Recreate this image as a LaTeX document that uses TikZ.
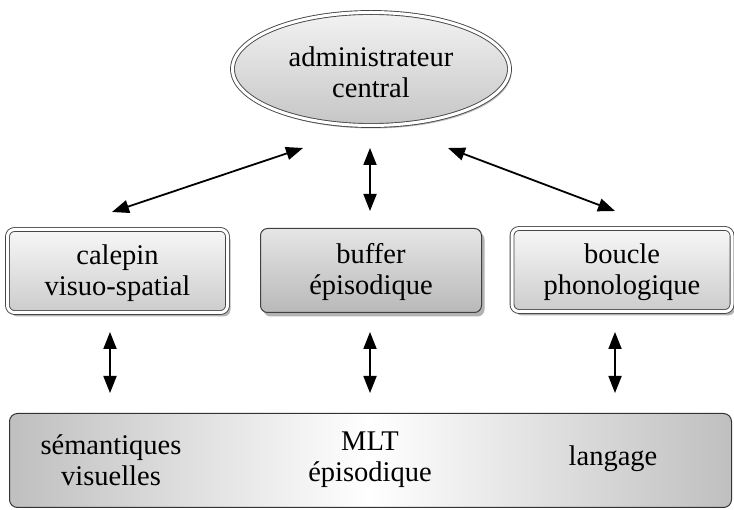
\documentclass[tikz,border=0pt]{standalone}
\usepackage{fontspec}
\setmainfont{Liberation Serif}
\newfontfamily\timesf{Liberation Serif}
\usetikzlibrary{shadows,arrows.meta,shapes.geometric}
\begin{document}
\begin{tikzpicture}[x=1pt,y=-1pt,
  lbl/.style={font=\timesf\fontsize{28.5}{31}\selectfont, align=center, text=black},
  ovalnode/.style={ellipse, draw=gray!55!black, line width=0.9pt, double=white, double distance=3pt,
     top color=gray!10, bottom color=gray!45, minimum width=277pt, minimum height=113pt, inner sep=0pt,
     drop shadow={shadow xshift=2pt, shadow yshift=-3pt, opacity=0.5}},
  dblbox/.style={rectangle, rounded corners=7pt, draw=gray!55!black, line width=0.9pt, double=white, double distance=3pt,
     top color=gray!6, bottom color=gray!40, minimum width=220pt, minimum height=83pt, inner sep=0pt,
     drop shadow={shadow xshift=3pt, shadow yshift=-4pt, opacity=0.6}},
  darkbox/.style={rectangle, rounded corners=7pt, draw=gray!50!black, line width=1pt,
     top color=gray!20, bottom color=gray!55, minimum width=221pt, minimum height=84pt, inner sep=0pt,
     drop shadow={shadow xshift=3pt, shadow yshift=-4pt, opacity=0.6}},
  basebox/.style={rectangle, rounded corners=8pt, draw=gray!40!black, line width=1pt,
     left color=gray!50, right color=gray!50, middle color=white,
     minimum width=722pt, minimum height=94pt, inner sep=0pt},
  dblarrow/.style={line width=1.8pt, {Triangle[length=17pt,width=13pt]}-{Triangle[length=17pt,width=13pt]}}
]
\useasboundingbox (0,0) rectangle (734,510);

\node[ovalnode] (admin) at (371,69) {};
\node[lbl] (admintxt) at (371,72) {administrateur\\central};

\node[dblbox] (calepin) at (117.5,271) {};
\node[lbl] (calepintxt) at (117.5,273) {calepin\\visuo-spatial};

\node[darkbox] (buffer) at (371,270.5) {};
\node[lbl] (buffertxt) at (371,272) {buffer\\épisodique};

\node[dblbox] (boucle) at (622,270) {};
\node[lbl] (boucletxt) at (622,272) {boucle\\phonologique};

\node[basebox] (mlt) at (370.5,460.5) {};
\node[lbl] (sem) at (111,460) {sémantiques\\visuelles};
\node[lbl] (epi) at (370,460) {MLT\\épisodique};
\node[lbl] (lang) at (613,459) {langage};

% arrow end points
\coordinate (a1s) at (303,148);
\coordinate (a1e) at (112,212);
\coordinate (a2s) at (370,148);
\coordinate (a2e) at (370,211);
\coordinate (a3s) at (448,148);
\coordinate (a3e) at (615,211);
\coordinate (b1s) at (110,332);
\coordinate (b1e) at (110,393);
\coordinate (b2s) at (370,332);
\coordinate (b2e) at (370,393);
\coordinate (b3s) at (615,332);
\coordinate (b3e) at (615,393);

\draw[dblarrow] (a1s) -- (a1e);
\draw[dblarrow] (a2s) -- (a2e);
\draw[dblarrow] (a3s) -- (a3e);
\draw[dblarrow] (b1s) -- (b1e);
\draw[dblarrow] (b2s) -- (b2e);
\draw[dblarrow] (b3s) -- (b3e);
\end{tikzpicture}
\end{document}
